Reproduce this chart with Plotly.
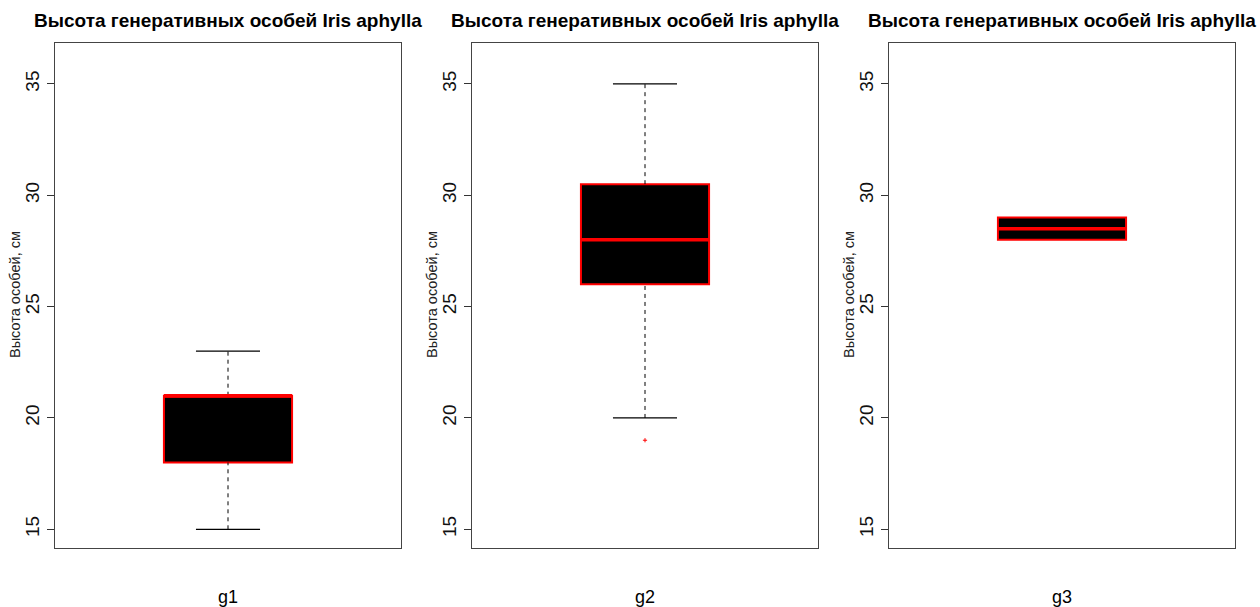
import plotly.graph_objects as go

# Summary statistics of plant height (cm) for each group
groups = ["g1", "g2", "g3"]
lower_whisker = [15, 20, 28]
q1 = [18, 26, 28]
median = [21, 28, 28.5]
q3 = [21, 30.5, 29]
upper_whisker = [23, 35, 29]
outliers = [[], [19], []]

title_text = "Высота генеративных особей Iris aphylla"
ylabel_text = "Высота особей, см"
y_ticks = [15, 20, 25, 30, 35]

FONT = "Liberation Sans, Arial, sans-serif"
BOX_W = 0.4
CAP_HALF = BOX_W / 4

W, H = 1260, 607
panel_left = [55, 472, 889]
panel_w = 346
plot_top, plot_bottom = 43, 548

fig = go.Figure()
layout = dict(
    width=W, height=H,
    margin=dict(l=0, r=0, t=0, b=0),
    paper_bgcolor="white", plot_bgcolor="white",
    showlegend=False,
    font=dict(family=FONT, color="black"),
    annotations=[],
)

for i, g in enumerate(groups):
    ax = "" if i == 0 else str(i + 1)
    xr, yr = "x" + ax, "y" + ax

    # whiskers (dashed) and caps
    if upper_whisker[i] > q3[i]:
        fig.add_trace(go.Scatter(x=[0, 0], y=[q3[i], upper_whisker[i]], mode="lines",
                                 line=dict(color="black", width=1, dash="4px,4px"),
                                 xaxis=xr, yaxis=yr, hoverinfo="skip"))
        fig.add_trace(go.Scatter(x=[-CAP_HALF, CAP_HALF], y=[upper_whisker[i]] * 2, mode="lines",
                                 line=dict(color="black", width=1.3),
                                 xaxis=xr, yaxis=yr, hoverinfo="skip"))
    if lower_whisker[i] < q1[i]:
        fig.add_trace(go.Scatter(x=[0, 0], y=[lower_whisker[i], q1[i]], mode="lines",
                                 line=dict(color="black", width=1, dash="4px,4px"),
                                 xaxis=xr, yaxis=yr, hoverinfo="skip"))
        fig.add_trace(go.Scatter(x=[-CAP_HALF, CAP_HALF], y=[lower_whisker[i]] * 2, mode="lines",
                                 line=dict(color="black", width=1.3),
                                 xaxis=xr, yaxis=yr, hoverinfo="skip"))

    # box body
    fig.add_trace(go.Box(
        x=[0], q1=[q1[i]], median=[median[i]], q3=[q3[i]],
        lowerfence=[q1[i]], upperfence=[q3[i]],
        width=BOX_W, whiskerwidth=0,
        fillcolor="black", line=dict(color="red", width=2),
        boxpoints=False, name=g, xaxis=xr, yaxis=yr,
    ))
    # thicker median line
    fig.add_trace(go.Scatter(x=[-BOX_W / 2, BOX_W / 2], y=[median[i]] * 2, mode="lines",
                             line=dict(color="red", width=3.5),
                             xaxis=xr, yaxis=yr, hoverinfo="skip"))
    # outliers
    if outliers[i]:
        fig.add_trace(go.Scatter(x=[0] * len(outliers[i]), y=outliers[i], mode="markers",
                                 marker=dict(color="red", size=3, symbol="cross-thin",
                                             line=dict(color="red", width=1)),
                                 xaxis=xr, yaxis=yr, hoverinfo="skip"))

    x0 = panel_left[i] / W
    x1 = (panel_left[i] + panel_w) / W
    layout["xaxis" + ax] = dict(
        domain=[x0, x1], range=[-0.54, 0.54], showticklabels=False, ticks="",
        showgrid=False, zeroline=False, showline=True, mirror=True,
        linecolor="#444", linewidth=1, anchor=yr,
    )
    layout["yaxis" + ax] = dict(
        domain=[1 - plot_bottom / H, 1 - plot_top / H], range=[14.16, 36.84],
        tickvals=y_ticks, ticks="outside", ticklen=7, tickcolor="#333",
        tickangle=-90, tickfont=dict(size=19, family=FONT, color="#111"),
        showgrid=False, zeroline=False, showline=True, mirror=True,
        linecolor="#444", linewidth=1, anchor=xr,
    )
    cx = (x0 + x1) / 2
    layout["annotations"] += [
        dict(text="<b>" + title_text + "</b>", x=cx, y=1 - 21 / H, xref="paper", yref="paper",
             showarrow=False, font=dict(size=19, family=FONT, color="black"),
             xanchor="center", yanchor="middle"),
        dict(text=g, x=cx, y=1 - 597 / H, xref="paper", yref="paper",
             showarrow=False, font=dict(size=18, family=FONT, color="black"),
             xanchor="center", yanchor="middle"),
        dict(text=ylabel_text, x=(panel_left[i] - 40) / W, y=1 - 295 / H,
             xref="paper", yref="paper", textangle=-90,
             showarrow=False, font=dict(size=14.5, family=FONT, color="#222"),
             xanchor="center", yanchor="middle"),
    ]

fig.update_layout(**layout)
fig.write_html("out.html")
